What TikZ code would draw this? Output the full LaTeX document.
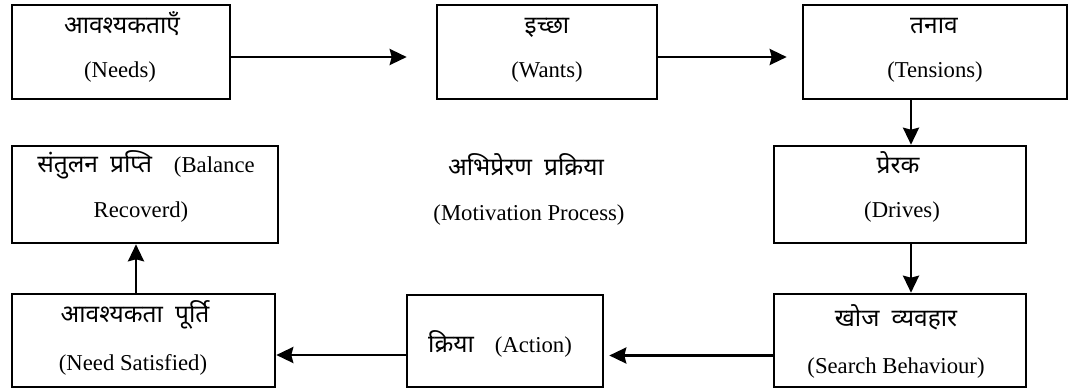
\documentclass[tikz,border=0pt]{standalone}
\usepackage{fontspec}
\setmainfont{Liberation Serif}
\newfontfamily\hi[Script=Devanagari,WordSpace=1.9]{Noto Sans}
\usetikzlibrary{arrows.meta}
\newcommand{\hisize}{\fontsize{24.5}{28}\selectfont}
\newcommand{\ensize}{\fontsize{22.7}{27}\selectfont}
\tikzset{
  box/.style={draw, line width=2.6pt, rectangle, inner sep=0pt},
  en/.style={inner sep=0pt, anchor=base, font=\ensize},
  hn/.style={inner sep=0pt, anchor=base, font=\hi\hisize},
  arr/.style={line width=2.6pt, -{Stealth[length=17pt,width=16pt,inset=2pt]}},
}
\begin{document}
\begin{tikzpicture}[x=1pt,y=-1pt]
\useasboundingbox[fill=white] (0,0) rectangle (1078,391);
% boxes
\node[box, minimum width=218pt, minimum height=94pt] (needs) at (121,52) {};
\node[box, minimum width=220pt, minimum height=94pt] (wants) at (547,52) {};
\node[box, minimum width=264pt, minimum height=94pt] (tens) at (935,52) {};
\node[box, minimum width=252pt, minimum height=97pt] (drives) at (900,194.5) {};
\node[box, minimum width=252pt, minimum height=93pt] (search) at (900,340.5) {};
\node[box, minimum width=196pt, minimum height=92pt] (action) at (505,341) {};
\node[box, minimum width=263pt, minimum height=93pt] (needsat) at (143.5,340.5) {};
\node[box, minimum width=266pt, minimum height=97pt] (balance) at (145,194.5) {};
% texts
\node[hn] (needsH) at (122,33) {आवश्यकताएँ};
\node[en] (needsE) at (120,77.5) {(Needs)};
\node[hn] (wantsH) at (547,33) {इच्छा};
\node[en] (wantsE) at (547,77.5) {(Wants)};
\node[hn] (tensH) at (934,33) {तनाव};
\node[en] (tensE) at (935,77.5) {(Tensions)};
\node[hn] (drivesH) at (898,173) {प्रेरक};
\node[en] (drivesE) at (902,217.5) {(Drives)};
\node[hn] (searchH) at (896,326) {खोज व्यवहार};
\node[en] (searchE) at (896,373) {(Search Behaviour)};
\node[en] (actionT) at (500,352) {{\hi\hisize क्रिया}\hspace{21pt}(Action)};
\node[hn] (needsatH) at (135,322) {आवश्यकता पूर्ति};
\node[en] (needsatE) at (133,370) {(Need Satisfied)};
\node[en] (balanceT) at (146,172) {{\hi\hisize संतुलन प्रप्ति}\hspace{22pt}(Balance};
\node[en] (balanceE) at (141,217.5) {Recoverd)};
\node[hn] (centerH) at (526,175) {अभिप्रेरण प्रक्रिया};
\node[en] (centerE) at (529,220.5) {(Motivation Process)};
% connectors
\draw[arr, shorten >=29pt] ([yshift=-5pt]needs.east) -- ([yshift=-5pt]wants.west);
\draw[arr, shorten >=15pt] ([yshift=-5pt]wants.east) -- ([yshift=-5pt]tens.west);
\draw[arr] ([xshift=11pt]drives.north |- tens.south) -- ([xshift=11pt]drives.north);
\draw[arr] ([xshift=11pt]drives.south) -- ([xshift=11pt]search.north);
\draw[arr, shorten >=5pt] ([yshift=-15pt]search.west) -- ([yshift=-15pt]search.west -| action.east);
\draw[arr] ([yshift=-14pt]action.west) -- ([yshift=-14pt]action.west -| needsat.east);
\draw[arr] ([xshift=-7.5pt]needsat.north) -- ([xshift=-7.5pt]needsat.north |- balance.south);
\end{tikzpicture}
\end{document}
